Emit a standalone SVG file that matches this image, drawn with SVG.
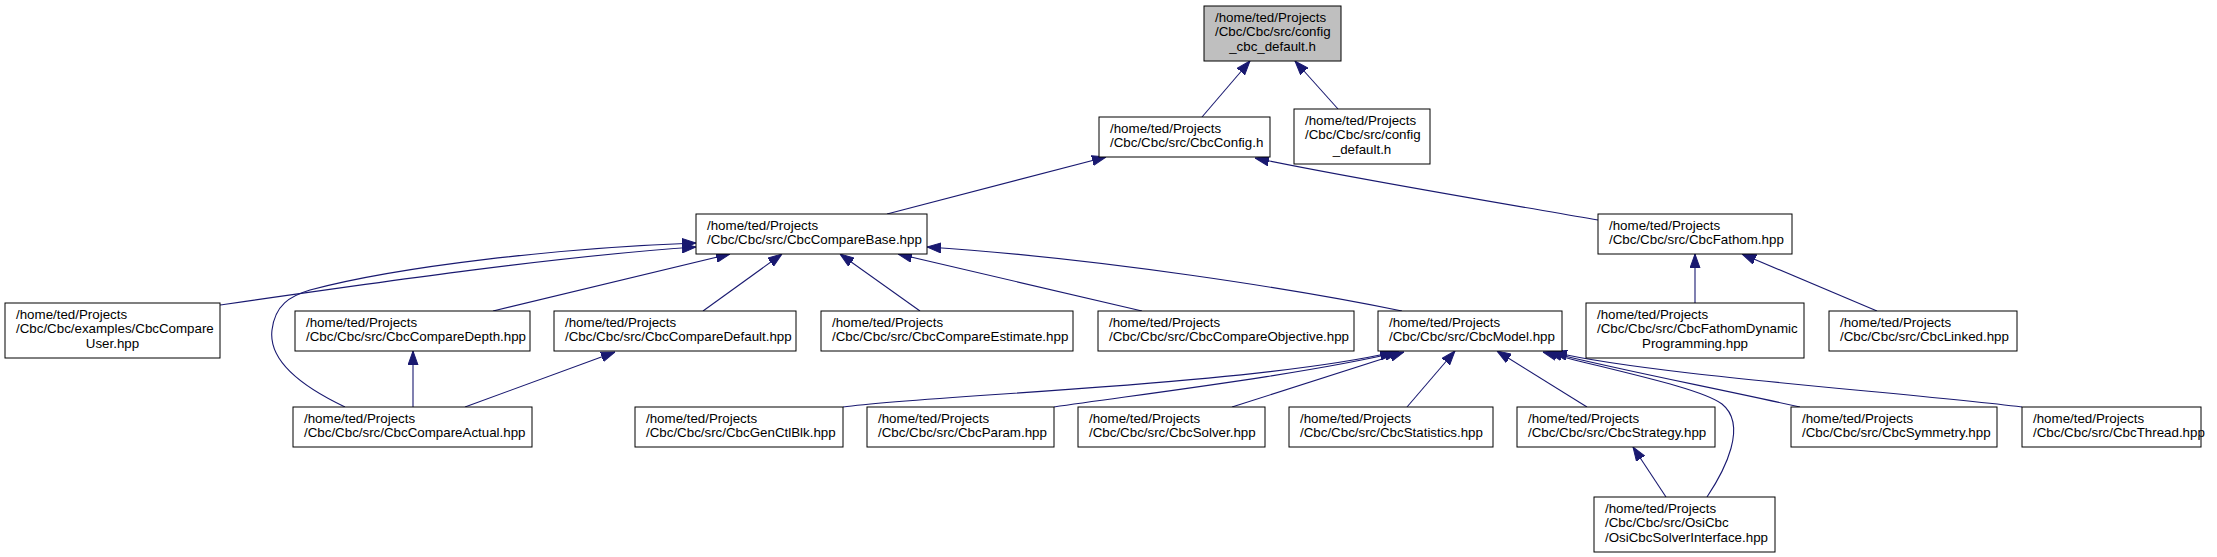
<svg xmlns="http://www.w3.org/2000/svg" width="2217" height="557" viewBox="0 0 2217 557">
<defs>
<style>
.n rect{fill:#ffffff;stroke:#000000;stroke-width:1}
.n.root rect{fill:#bfbfbf}
.n text{font-family:"Liberation Sans",Arial,Helvetica,sans-serif;font-size:13.33px;fill:#000000}
.n text.c{text-anchor:middle}
#edges path{fill:none;stroke:#191970;stroke-width:1.1;marker-end:url(#ah)}
</style>
<marker id="ah" markerUnits="userSpaceOnUse" markerWidth="14" markerHeight="11" viewBox="0 0 14 11" refX="14" refY="5.5" orient="auto">
<path d="M0,0.5 L14,5.5 L0,10.5 z" fill="#191970" stroke="#191970" stroke-width="1"/>
</marker>
</defs>
<rect x="0" y="0" width="2217" height="557" fill="#ffffff"/>

<g id="edges">
<path d="M1202,117 L1250,61"/>
<path d="M1338,109 L1295,61"/>
<path d="M887,214 L1106,157"/>
<path d="M1598,220 C1500,203 1350,178 1255,158"/>
<path d="M220,305 C380,282 560,256 696,247"/>
<path d="M345,407 C305,388 268,362 272,330 C275,305 290,296 310,290 C400,266 560,248 696,243"/>
<path d="M493,311 L730,254"/>
<path d="M703,311 L782,254"/>
<path d="M920,311 L840,254"/>
<path d="M1142,311 L898,254"/>
<path d="M1402,311 C1300,290 1100,258 927,247"/>
<path d="M413,407 L413,351"/>
<path d="M465,407 L615,352"/>
<path d="M843,407 C930,395 1250,385 1394,352"/>
<path d="M1054,407 C1150,393 1300,375 1399,352"/>
<path d="M1232,407 L1404,352"/>
<path d="M1407,407 L1455,351"/>
<path d="M1587,407 L1497,351"/>
<path d="M1707,497 C1725,470 1748,425 1722,404 C1700,388 1620,372 1543,352"/>
<path d="M1800,407 C1700,385 1620,370 1548,352"/>
<path d="M2022,407 C1900,392 1650,375 1553,352"/>
<path d="M1666,497 L1633,447"/>
<path d="M1695,303 L1695,254"/>
<path d="M1877,311 L1742,254"/>
</g>

<g id="node-root" class="n root">
<rect x="1204" y="6" width="137" height="55"/>
<text x="1215" y="21.5">/home/ted/Projects</text>
<text x="1215" y="36.2">/Cbc/Cbc/src/config</text>
<text class="c" x="1272.5" y="50.8">_cbc_default.h</text>
</g>
<g id="node-CbcConfig" class="n">
<rect x="1099" y="117" width="171" height="40"/>
<text x="1110" y="132.5">/home/ted/Projects</text>
<text x="1110" y="147.2">/Cbc/Cbc/src/CbcConfig.h</text>
</g>
<g id="node-config_default" class="n">
<rect x="1294" y="109" width="136" height="55"/>
<text x="1305" y="124.5">/home/ted/Projects</text>
<text x="1305" y="139.2">/Cbc/Cbc/src/config</text>
<text class="c" x="1362" y="153.8">_default.h</text>
</g>
<g id="node-CbcCompareBase" class="n">
<rect x="696" y="214" width="231" height="40"/>
<text x="707" y="229.5">/home/ted/Projects</text>
<text x="707" y="244.2">/Cbc/Cbc/src/CbcCompareBase.hpp</text>
</g>
<g id="node-CbcFathom" class="n">
<rect x="1598" y="214" width="194" height="40"/>
<text x="1609" y="229.5">/home/ted/Projects</text>
<text x="1609" y="244.2">/Cbc/Cbc/src/CbcFathom.hpp</text>
</g>
<g id="node-CbcCompareUser" class="n">
<rect x="5" y="303" width="215" height="55"/>
<text x="16" y="318.5">/home/ted/Projects</text>
<text x="16" y="333.2">/Cbc/Cbc/examples/CbcCompare</text>
<text class="c" x="112.5" y="347.8">User.hpp</text>
</g>
<g id="node-CbcCompareDepth" class="n">
<rect x="295" y="311" width="235" height="40"/>
<text x="306" y="326.5">/home/ted/Projects</text>
<text x="306" y="341.2">/Cbc/Cbc/src/CbcCompareDepth.hpp</text>
</g>
<g id="node-CbcCompareDefault" class="n">
<rect x="554" y="311" width="242" height="40"/>
<text x="565" y="326.5">/home/ted/Projects</text>
<text x="565" y="341.2">/Cbc/Cbc/src/CbcCompareDefault.hpp</text>
</g>
<g id="node-CbcCompareEstimate" class="n">
<rect x="821" y="311" width="252" height="40"/>
<text x="832" y="326.5">/home/ted/Projects</text>
<text x="832" y="341.2">/Cbc/Cbc/src/CbcCompareEstimate.hpp</text>
</g>
<g id="node-CbcCompareObjective" class="n">
<rect x="1098" y="311" width="256" height="40"/>
<text x="1109" y="326.5">/home/ted/Projects</text>
<text x="1109" y="341.2">/Cbc/Cbc/src/CbcCompareObjective.hpp</text>
</g>
<g id="node-CbcModel" class="n">
<rect x="1378" y="311" width="184" height="40"/>
<text x="1389" y="326.5">/home/ted/Projects</text>
<text x="1389" y="341.2">/Cbc/Cbc/src/CbcModel.hpp</text>
</g>
<g id="node-CbcFathomDynamicProgramming" class="n">
<rect x="1586" y="303" width="218" height="55"/>
<text x="1597" y="318.5">/home/ted/Projects</text>
<text x="1597" y="333.2">/Cbc/Cbc/src/CbcFathomDynamic</text>
<text class="c" x="1695" y="347.8">Programming.hpp</text>
</g>
<g id="node-CbcLinked" class="n">
<rect x="1829" y="311" width="188" height="40"/>
<text x="1840" y="326.5">/home/ted/Projects</text>
<text x="1840" y="341.2">/Cbc/Cbc/src/CbcLinked.hpp</text>
</g>
<g id="node-CbcCompareActual" class="n">
<rect x="293" y="407" width="239" height="40"/>
<text x="304" y="422.5">/home/ted/Projects</text>
<text x="304" y="437.2">/Cbc/Cbc/src/CbcCompareActual.hpp</text>
</g>
<g id="node-CbcGenCtlBlk" class="n">
<rect x="635" y="407" width="208" height="40"/>
<text x="646" y="422.5">/home/ted/Projects</text>
<text x="646" y="437.2">/Cbc/Cbc/src/CbcGenCtlBlk.hpp</text>
</g>
<g id="node-CbcParam" class="n">
<rect x="867" y="407" width="187" height="40"/>
<text x="878" y="422.5">/home/ted/Projects</text>
<text x="878" y="437.2">/Cbc/Cbc/src/CbcParam.hpp</text>
</g>
<g id="node-CbcSolver" class="n">
<rect x="1078" y="407" width="187" height="40"/>
<text x="1089" y="422.5">/home/ted/Projects</text>
<text x="1089" y="437.2">/Cbc/Cbc/src/CbcSolver.hpp</text>
</g>
<g id="node-CbcStatistics" class="n">
<rect x="1289" y="407" width="204" height="40"/>
<text x="1300" y="422.5">/home/ted/Projects</text>
<text x="1300" y="437.2">/Cbc/Cbc/src/CbcStatistics.hpp</text>
</g>
<g id="node-CbcStrategy" class="n">
<rect x="1517" y="407" width="198" height="40"/>
<text x="1528" y="422.5">/home/ted/Projects</text>
<text x="1528" y="437.2">/Cbc/Cbc/src/CbcStrategy.hpp</text>
</g>
<g id="node-CbcSymmetry" class="n">
<rect x="1791" y="407" width="206" height="40"/>
<text x="1802" y="422.5">/home/ted/Projects</text>
<text x="1802" y="437.2">/Cbc/Cbc/src/CbcSymmetry.hpp</text>
</g>
<g id="node-CbcThread" class="n">
<rect x="2022" y="407" width="179" height="40"/>
<text x="2033" y="422.5">/home/ted/Projects</text>
<text x="2033" y="437.2">/Cbc/Cbc/src/CbcThread.hpp</text>
</g>
<g id="node-OsiCbcSolverInterface" class="n">
<rect x="1594" y="497" width="181" height="55"/>
<text x="1605" y="512.5">/home/ted/Projects</text>
<text x="1605" y="527.2">/Cbc/Cbc/src/OsiCbc</text>
<text x="1605" y="541.8">/OsiCbcSolverInterface.hpp</text>
</g>
</svg>
